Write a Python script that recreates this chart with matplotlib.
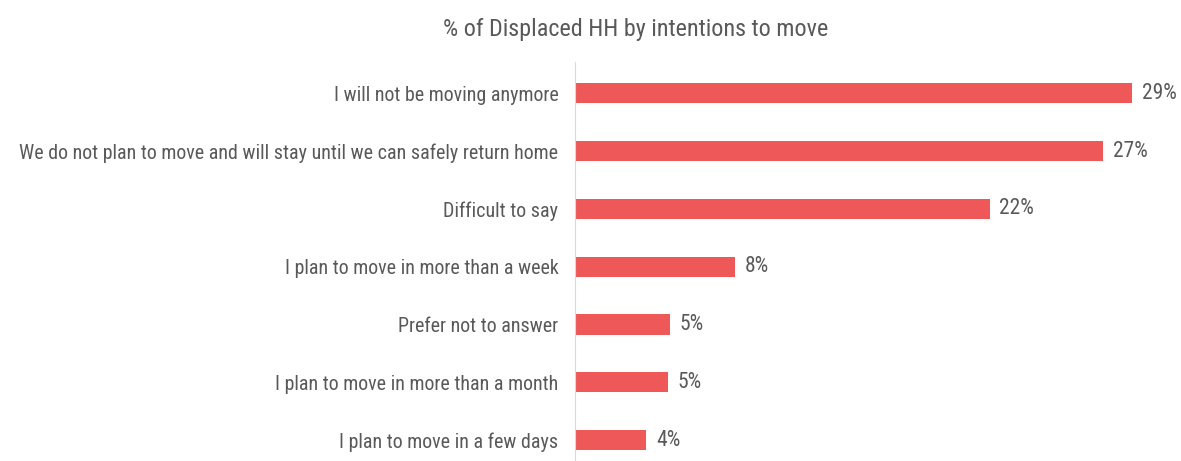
import matplotlib.pyplot as plt

categories = [
    "I will not be moving anymore",
    "We do not plan to move and will stay until we can safely return home",
    "Difficult to say",
    "I plan to move in more than a week",
    "Prefer not to answer",
    "I plan to move in more than a month",
    "I plan to move in a few days",
]
values = [28.9, 27.4, 21.5, 8.3, 4.9, 4.8, 3.7]
labels = ["29%", "27%", "22%", "8%", "5%", "5%", "4%"]

plt.rcParams['font.family'] = ['Roboto Condensed', 'Liberation Sans', 'DejaVu Sans']
text_color = '#595959'

fig = plt.figure(figsize=(11.81, 4.61), dpi=100)
ax = fig.add_axes([0.487, 0.0, 0.506, 0.8655])

pos = list(range(len(categories)))
ax.barh(pos, values, height=0.35, color='#EE5859')
for p, v, lab in zip(pos, values, labels):
    ax.text(v + 0.5, p, lab, va='center', ha='left', fontsize=15.5, color=text_color)

ax.set_xlim(0, 31)
ax.set_ylim(6.36, -0.54)
ax.set_yticks(pos)
ax.set_yticklabels(categories, fontsize=14.4, color=text_color)
ax.tick_params(axis='y', length=0, pad=12)
ax.set_xticks([])
for s in ['top', 'right', 'bottom']:
    ax.spines[s].set_visible(False)
ax.spines['left'].set_color('#d9d9d9')

fig.text(0.538, 0.935, "% of Displaced HH by intentions to move", ha='center', va='center',
         fontsize=17.4, color=text_color)

fig.savefig('out.png', dpi=100)
